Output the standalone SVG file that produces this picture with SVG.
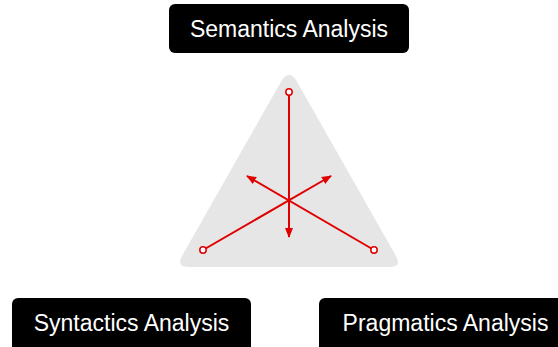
<svg xmlns="http://www.w3.org/2000/svg" width="558" height="347" viewBox="0 0 558 347">
<style>
.box{fill:#000}
.lbl{fill:#fff;font-family:"Liberation Sans",Arial,sans-serif;font-size:23px;text-anchor:middle}
.ln{stroke:#e00000;stroke-width:2;fill:none}
.dot{fill:#fff;stroke:#e00000;stroke-width:1.5}
</style>
<defs>
<marker id="ah" viewBox="0 0 10 10" refX="9" refY="5" markerWidth="5" markerHeight="5" orient="auto" markerUnits="strokeWidth">
<path d="M0,1 L10,5 L0,9 Z" fill="#e00000"/>
</marker>
</defs>
<g id="triangle">
<path d="M282,80 Q289,70 296,80 L396,256 Q402,267 390,267 L188,267 Q176,267 182,256 Z" fill="#e6e6e6"/>
</g>
<g id="connectors">
<line class="ln" x1="289" y1="92" x2="289" y2="237" marker-end="url(#ah)"/>
<line class="ln" x1="203" y1="250" x2="331" y2="176" marker-end="url(#ah)"/>
<line class="ln" x1="374" y1="250" x2="247" y2="176" marker-end="url(#ah)"/>
<circle class="dot" cx="289" cy="92" r="3.2"/>
<circle class="dot" cx="203" cy="250" r="3.2"/>
<circle class="dot" cx="374" cy="250" r="3.2"/>
</g>
<g id="semantics">
<rect class="box" x="169" y="4" width="240" height="49" rx="6"/>
<text class="lbl" x="289" y="37">Semantics Analysis</text>
</g>
<g id="syntactics">
<rect class="box" x="12" y="298" width="239" height="55" rx="6"/>
<text class="lbl" x="131.5" y="331">Syntactics Analysis</text>
</g>
<g id="pragmatics">
<rect class="box" x="319" y="298" width="250" height="55" rx="6"/>
<text class="lbl" x="445.5" y="331">Pragmatics Analysis</text>
</g>
</svg>
